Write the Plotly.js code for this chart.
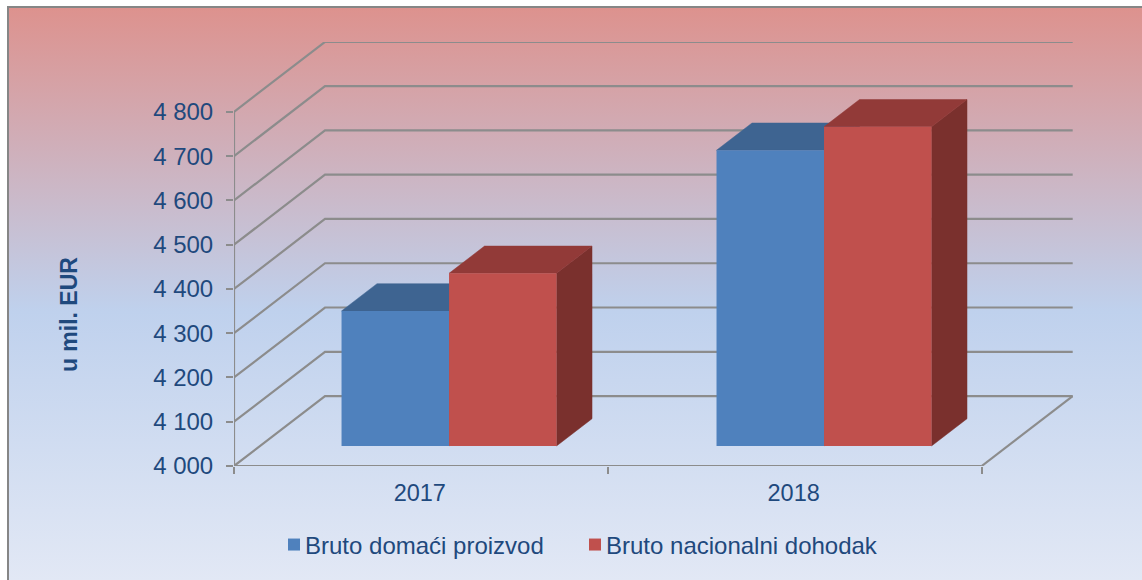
<!DOCTYPE html>
<html>
<head>
<meta charset="utf-8">
<script src="https://cdn.plot.ly/plotly-3.0.1.min.js"></script>
<style>
html,body{margin:0;padding:0;background:#fff;width:1142px;height:580px;overflow:hidden}
#frame{position:absolute;left:7px;top:6px;width:1135px;height:574px;box-sizing:border-box;border:2px solid #868686;border-bottom:none;border-right:none;
background:linear-gradient(180deg,#DD928E 0%,#BFD1ED 53%,#E2E8F5 100%)}
#chart{position:absolute;left:0;top:0;width:1142px;height:580px}
</style>
</head>
<body>
<div id="frame"></div>
<div id="chart"></div>
<script>
const categories = ['2017', '2018'];
const seriesNames = ['Bruto domaći proizvod', 'Bruto nacionalni dohodak'];
const gdp = [4305, 4668];
const gni = [4390, 4721];
const yTicks = [4000, 4100, 4200, 4300, 4400, 4500, 4600, 4700, 4800];
const yTickText = ['4 000', '4 100', '4 200', '4 300', '4 400', '4 500', '4 600', '4 700', '4 800'];

const C = {grid:'#8C8C8C', text:'#1F497D', blue:'#4F81BD', red:'#C0504D',
           blueTop:'#3E6491', blueSide:'#3A5C86', redTop:'#923A38', redSide:'#7A302D'};
const FONT = 'Liberation Sans, Arial, sans-serif';

// Projection of the depth axis, in data units (1 category = 373.85 px, 100 EUR = 44.3 px)
const floorDx = 91 / 373.85, floorDy = 70 / 44.3 * 100;   // full depth of the floor
const barFrontK = 0.286;                                   // bar front face sits this far into depth
const barDepthK = 0.39;                                    // bar depth as fraction of floor depth
const barW = 107.5 / 373.85;
const baseY = 4000 + barFrontK * floorDy;
const frontX = barFrontK * floorDx;
const pos = [0.5056, 1.5086];

const traces = [];
function line(xs, ys) {
  traces.push({type:'scatter', mode:'lines', x:xs, y:ys, showlegend:false, hoverinfo:'skip', cliponaxis:false,
               line:{color:C.grid, width:2.2}, xaxis:'x', yaxis:'y'});
}
// grid: wall and side wall
yTicks.forEach(v => line([0, floorDx, 2 + floorDx], [v, v + floorDy, v + floorDy]));
// floor edges and front axis lines
line([2, 2 + floorDx], [4000, 4000 + floorDy]);
line([0, 2], [4000, 4000]);
line([0, 0], [4000, 4800]);

function face(xs, ys, color) {
  traces.push({type:'scatter', mode:'lines', x:xs, y:ys, fill:'toself', fillcolor:color, showlegend:false,
               hoverinfo:'skip', line:{color:color, width:0.5}, xaxis:'x', yaxis:'y'});
}
const ddx = barDepthK * floorDx, ddy = barDepthK * floorDy;
function boxFaces(i, values, side, top, k) {
  const x0 = pos[i] - barW + k * barW + frontX, x1 = x0 + barW;
  const h = baseY + values[i] - 4000;
  face([x1, x1 + ddx, x1 + ddx, x1, x1], [baseY, baseY + ddy, h + ddy, h, baseY], side);
  face([x0, x0 + ddx, x1 + ddx, x1, x0], [h, h + ddy, h + ddy, h, h], top);
}
categories.forEach((c, i) => {
  boxFaces(i, gdp, C.blueSide, C.blueTop, 0);
  boxFaces(i, gni, C.redSide, C.redTop, 1);
});

// front faces: real bars on an overlaid subplot
[[gdp, 0, C.blue], [gni, 1, C.red]].forEach(([vals, k, col], s) => {
  traces.push({type:'bar', name:seriesNames[s], x:pos.map(p => p - barW + k * barW + frontX + barW / 2),
    y:vals.map(v => v - 4000), base:vals.map(() => baseY), width:barW, marker:{color:col, line:{width:0}},
    hoverinfo:'skip', xaxis:'x2', yaxis:'y2'});
});

const xRange = [0, 839 / 373.85];
const yRange = [4000, 4000 + (466 - 41.7) / 44.3 * 100];
const layout = {
  width:1142, height:580, margin:{l:234, r:69, t:41.7, b:114, pad:0},
  paper_bgcolor:'rgba(0,0,0,0)', plot_bgcolor:'rgba(0,0,0,0)', barmode:'overlay',
  font:{family:FONT, color:C.text, size:23},
  xaxis:{range:xRange, showgrid:false, zeroline:false, showline:false, tickmode:'array', tickvals:[0.497, 1.497], ticktext:categories,
    ticks:'', ticklabelstandoff:10, tickfont:{size:23.5, color:C.text},
    minor:{ticks:'outside', tickmode:'array', tickvals:[0, 1, 2], ticklen:7, tickwidth:2, tickcolor:C.grid, showgrid:false}},
  yaxis:{range:yRange, showgrid:false, zeroline:false, showline:false, tickmode:'array', tickvals:yTicks, ticktext:yTickText,
    ticks:'outside', ticklen:7, tickwidth:2, tickcolor:C.grid, tickfont:{size:24, color:C.text}, ticklabelstandoff:8},
  xaxis2:{range:xRange, overlaying:'x', visible:false},
  yaxis2:{range:yRange, overlaying:'y', visible:false},
  annotations:[{text:'<b>u mil. EUR</b>', xref:'paper', yref:'paper', x:(69 - 234) / 839, y:(466 - 315) / 424.3,
    xanchor:'center', yanchor:'middle', textangle:-90, showarrow:false, font:{size:23, color:C.text}}],
  legend:{orientation:'h', x:(265 - 234) / 839, xanchor:'left', y:(466 - 545) / 424.3, yanchor:'middle', xref:'paper', yref:'paper',
    font:{size:24, color:C.text}, bgcolor:'rgba(0,0,0,0)', itemclick:false, itemdoubleclick:false,
    entrywidth:256, entrywidthmode:'pixels'},
  showlegend:true
};
Plotly.newPlot('chart', traces, layout, {displayModeBar:false, staticPlot:true}).then(gd => {
  gd.querySelectorAll('.legend .scrollbox, .legend').forEach(g => { g.removeAttribute('clip-path'); g.style.clipPath = 'none'; });
  gd.querySelectorAll('.legendpoints').forEach(g => g.setAttribute('transform', 'translate(9,0)'));
  gd.querySelectorAll('.legendpoints .legendbar path, .legendpoints .legendundefined path').forEach(p => p.setAttribute('d', 'M7,7H-7V-7H7Z'));
});
</script>
</body>
</html>
